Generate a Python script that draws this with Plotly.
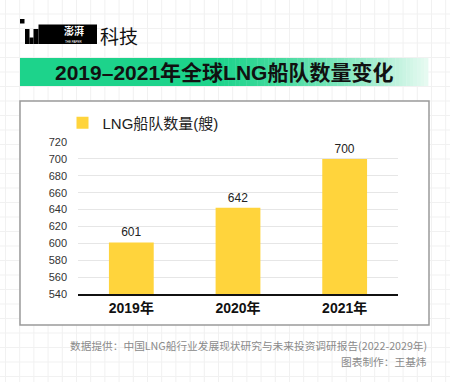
import plotly.graph_objects as go

# ---- data ----
categories = ["2019年", "2020年", "2021年"]
fleet_counts = [601, 642, 700]
series_name = "LNG船队数量(艘)"
y_ticks = [540, 560, 580, 600, 620, 640, 660, 680, 700, 720]
title_text = "2019–2021年全球LNG船队数量变化"
source_text = "数据提供：中国LNG船行业发展现状研究与未来投资调研报告(2022-2029年)"
author_text = "图表制作：王基炜"

W, H = 450, 382
ML, MR, MT, MB = 78, 52, 142, 88
PW, PH = W - ML - MR, H - MT - MB

def px(x):
    return (x - ML) / PW

def py(y):
    return (H - MB - y) / PH

FONT = "Liberation Sans, Arial, Noto Sans CJK SC, sans-serif"
CJK = "Noto Sans CJK SC, sans-serif"
BAR = "#FFD43C"

fig = go.Figure()
fig.add_trace(go.Bar(
    x=categories, y=fleet_counts, name=series_name,
    marker=dict(color=BAR, line=dict(width=0)),
    text=[str(v) for v in fleet_counts], textposition="outside",
    textfont=dict(size=12, color="#222", family=FONT),
    cliponaxis=False, showlegend=True, hoverinfo="skip",
))

shapes = []
# faint graph-paper background
gc = "#f1f1f1"
k = 0
while 5.5 + 14.2 * k < W:
    xx = 5.5 + 14.2 * k
    shapes.append(dict(type="line", xref="paper", yref="paper", x0=px(xx), x1=px(xx),
                       y0=py(0), y1=py(H), line=dict(color=gc, width=1), layer="below"))
    k += 1
k = 0
while 14 + 14.5 * k < H:
    yy = 14 + 14.5 * k
    shapes.append(dict(type="line", xref="paper", yref="paper", x0=px(0), x1=px(W),
                       y0=py(yy), y1=py(yy), line=dict(color=gc, width=1), layer="below"))
    k += 1

# chart box
shapes.append(dict(type="rect", xref="paper", yref="paper", x0=px(20), x1=px(429),
                   y0=py(325), y1=py(101), fillcolor="white",
                   line=dict(color="#9a9a9a", width=1.5), layer="below"))

# title banner with gradient
def lerp(c1, c2, t):
    return "rgb(%d,%d,%d)" % tuple(round(a + (b - a) * t) for a, b in zip(c1, c2))
c_start = (29, 211, 139)
c_end = (232, 250, 242)
x_left, x_fade, x_right = 20, 210, 428
shapes.append(dict(type="rect", xref="paper", yref="paper", x0=px(x_left), x1=px(x_fade),
                   y0=py(86), y1=py(58), fillcolor=lerp(c_start, c_end, 0),
                   line=dict(width=0), layer="below"))
n = 60
step = (x_right - x_fade) / n
for i in range(n):
    t = (i + 0.5) / n
    shapes.append(dict(type="rect", xref="paper", yref="paper",
                       x0=px(x_fade + i * step), x1=px(x_fade + (i + 1) * step + 0.4),
                       y0=py(86), y1=py(58), fillcolor=lerp(c_start, c_end, t ** 1.4),
                       line=dict(width=0), layer="below"))

# logo
for (a, b, c, d) in [(20, 19, 24.5, 23.5), (25, 29, 29.5, 44), (29.5, 37.5, 33.5, 44),
                     (33.5, 29, 38.5, 44), (38.5, 24.5, 97, 44)]:
    shapes.append(dict(type="rect", xref="paper", yref="paper", x0=px(a), x1=px(c),
                       y0=py(d), y1=py(b), fillcolor="black", line=dict(width=0)))

def ann(text, x, y, size, color, family, xanchor="center"):
    return dict(text=text, x=px(x), y=py(y), xref="paper", yref="paper",
                xanchor=xanchor, yanchor="middle", showarrow=False,
                font=dict(size=size, color=color, family=family))

annotations = [
    ann("<b>澎湃</b>", 74, 31, 10, "white", CJK),
    ann("THE PAPER", 74, 41.5, 3, "white", FONT),
    ann("科技", 98, 35, 19, "#111", CJK, "left"),
    ann("<b>" + title_text + "</b>", 224, 72, 21, "#111", FONT),
    ann(source_text, 429, 345, 10.7, "#8a8a8a", CJK, "right"),
    ann(author_text, 429, 361, 10.7, "#8a8a8a", CJK, "right"),
]

fig.update_layout(
    width=W, height=H,
    margin=dict(l=ML, r=MR, t=MT, b=MB, pad=0),
    paper_bgcolor="white", plot_bgcolor="rgba(0,0,0,0)",
    bargap=0.58,
    shapes=shapes, annotations=annotations,
    showlegend=True, hovermode=False,
    legend=dict(x=px(62.5), y=py(123), xanchor="left", yanchor="middle",
                font=dict(size=15, color="#222", family=FONT),
                bgcolor="rgba(0,0,0,0)", borderwidth=0),
    xaxis=dict(showline=True, linecolor="#111", linewidth=2, showgrid=False,
               tickfont=dict(size=14, color="#111", family=FONT),
               ticks="", ticklabelstandoff=0, fixedrange=True,
               tickvals=categories, ticktext=["<b>%s</b>" % c for c in categories]),
    yaxis=dict(range=[540, 720], tickvals=y_ticks, showgrid=True, gridcolor="#e6e6e6",
               gridwidth=1, zeroline=False, showline=False, ticks="",
               tickfont=dict(size=11, color="#333", family=FONT),
               ticklabelstandoff=10, fixedrange=True),
)

fig.write_html("out.html", config={"displayModeBar": False},
               post_script="document.body.style.margin='0';")
